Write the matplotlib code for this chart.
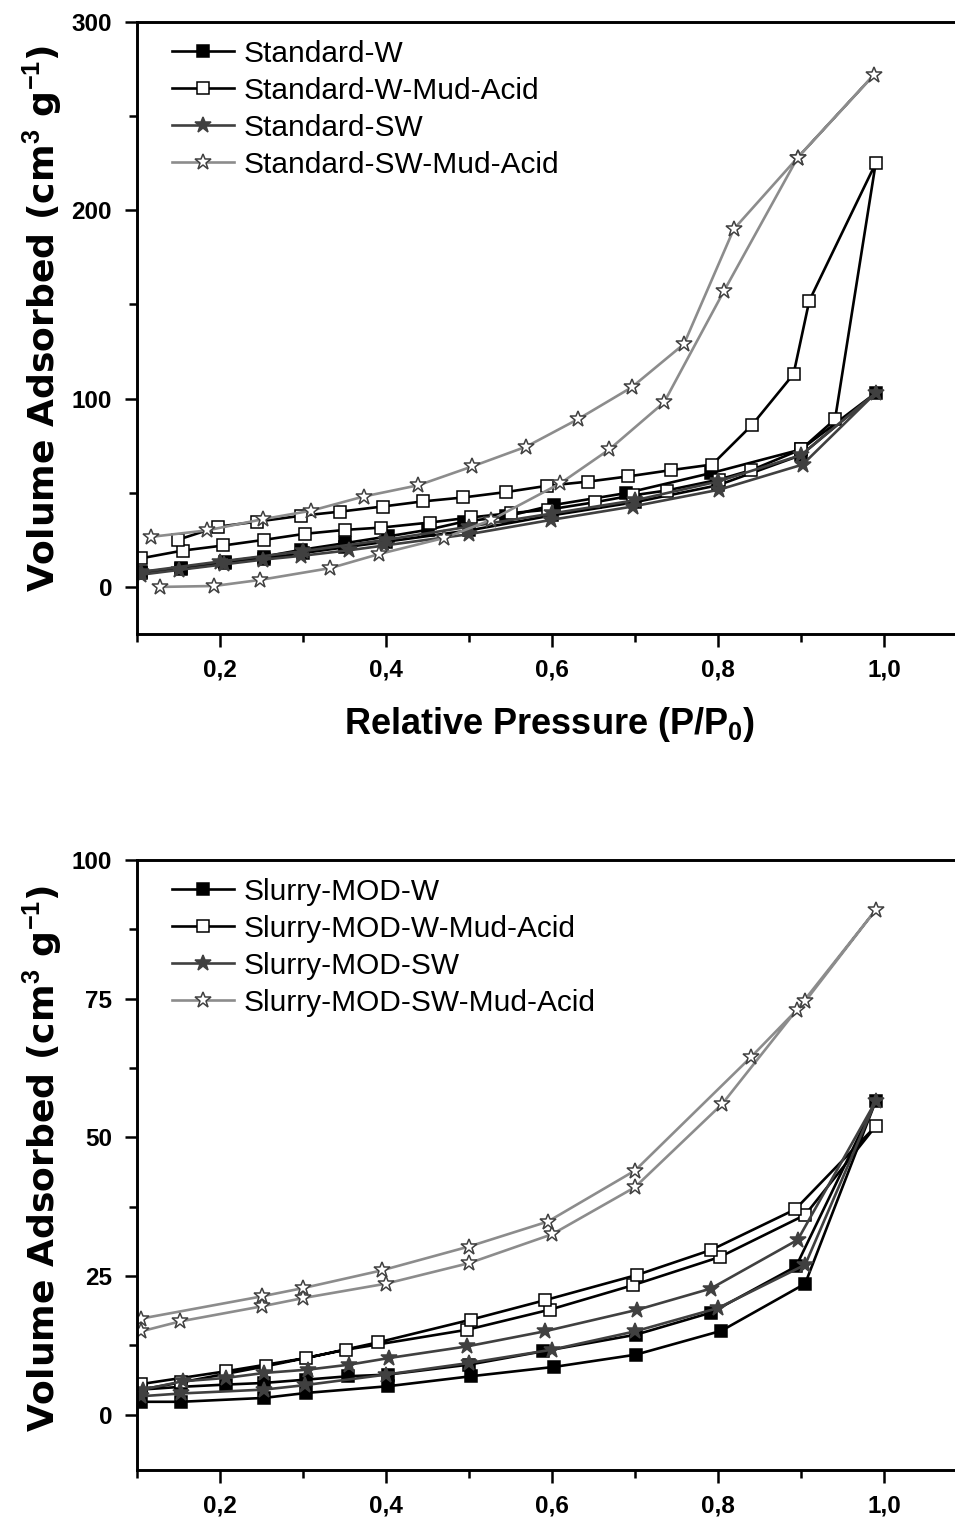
import numpy as np
import matplotlib
matplotlib.use('Agg')
import matplotlib.pyplot as plt
from matplotlib.ticker import MultipleLocator, FuncFormatter

plt.rcParams['font.family'] = ['Liberation Sans', 'DejaVu Sans']
plt.rcParams['mathtext.fontset'] = 'custom'
plt.rcParams['mathtext.rm'] = 'Liberation Sans'
plt.rcParams['mathtext.bf'] = 'Liberation Sans:bold'

# ---- top panel: Standard samples (adsorption up, desorption back down) ----
std_w_x = [0.105, 0.153, 0.206, 0.253, 0.30, 0.35, 0.40, 0.50, 0.60, 0.70, 0.80, 0.90, 0.99,
           0.90, 0.792, 0.689, 0.603, 0.545, 0.494, 0.45, 0.402, 0.35, 0.298, 0.253, 0.206, 0.153, 0.105]
std_w_y = [7.3, 9.5, 12.5, 15, 18, 21, 24, 30, 38, 45, 54, 70, 103,
           73, 60.5, 49.8, 43.6, 37.4, 34.7, 30.3, 26.8, 23.2, 19.7, 16.1, 13.5, 10, 8]

std_wma_x = [0.105, 0.155, 0.204, 0.253, 0.302, 0.351, 0.394, 0.453, 0.502, 0.551, 0.595, 0.652,
             0.697, 0.738, 0.801, 0.84, 0.90, 0.941, 0.99,
             0.91, 0.891, 0.841, 0.793, 0.743, 0.692, 0.643, 0.594, 0.545, 0.493, 0.444, 0.396,
             0.345, 0.298, 0.245, 0.198, 0.149]
std_wma_y = [15.2, 19.3, 22, 25, 28.2, 30.3, 31.5, 34.2, 36.9, 39.2, 41, 45,
             48.6, 51.2, 57, 62, 73, 89, 225,
             152, 113, 86, 65, 62, 58.7, 55.9, 53.7, 50.4, 47.5, 45.4, 42.7,
             40, 37.8, 34.7, 32, 25]

std_sw_x = [0.105, 0.15, 0.205, 0.252, 0.298, 0.356, 0.398, 0.50, 0.599, 0.697, 0.801, 0.902, 0.99,
            0.90, 0.80, 0.70, 0.60, 0.50, 0.40, 0.30, 0.20, 0.105]
std_sw_y = [6.5, 9, 12, 14.5, 16.5, 19.5, 22, 28, 35.6, 42.7, 51.6, 65, 103,
            70, 56, 46, 39, 32, 25, 19, 13.5, 8]

std_swma_x = [0.128, 0.193, 0.248, 0.333, 0.392, 0.47, 0.527, 0.61, 0.669, 0.735, 0.807, 0.896, 0.988,
              0.896, 0.819, 0.759, 0.696, 0.631, 0.569, 0.504, 0.439, 0.373, 0.31, 0.252, 0.184, 0.117]
std_swma_y = [0, 0.5, 3.7, 10, 17.5, 26, 35.6, 55, 73, 98, 157, 228, 272,
              228, 190, 129, 106, 89, 74.5, 64, 54, 48, 40.5, 36, 30, 26.6]

# ---- bottom panel: Slurry-MOD samples ----
sl_w_x = [0.105, 0.153, 0.253, 0.304, 0.402, 0.502, 0.603, 0.701, 0.804, 0.905, 0.99,
          0.894, 0.792, 0.701, 0.589, 0.50, 0.402, 0.354, 0.304, 0.253, 0.207, 0.153, 0.105]
sl_w_y = [2.3, 2.3, 3.0, 3.9, 5.1, 6.9, 8.6, 10.8, 15.1, 23.6, 56.5,
          26.7, 18.4, 14.4, 11.4, 9.0, 7.2, 6.9, 6.3, 5.7, 5.4, 5.0, 4.5]

sl_wma_x = [0.105, 0.153, 0.255, 0.352, 0.498, 0.597, 0.697, 0.802, 0.905, 0.99,
            0.893, 0.792, 0.703, 0.591, 0.502, 0.39, 0.304, 0.207, 0.105]
sl_wma_y = [4.5, 5.8, 8.7, 11.7, 15.3, 18.9, 23.3, 28.4, 36.0, 52.0,
            37, 29.7, 25.2, 20.6, 17.1, 13.0, 10.2, 7.8, 5.5]

sl_sw_x = [0.105, 0.153, 0.253, 0.302, 0.40, 0.50, 0.60, 0.70, 0.80, 0.905, 0.99,
           0.896, 0.791, 0.703, 0.591, 0.498, 0.404, 0.356, 0.306, 0.253, 0.207, 0.155, 0.107]
sl_sw_y = [3.3, 3.8, 4.5, 5.3, 7.2, 9.3, 11.7, 15.0, 19.2, 27.0, 56.5,
           31.5, 22.7, 18.9, 15.0, 12.3, 10.2, 9.0, 8.1, 7.5, 6.6, 6.0, 4.5]

sl_swma_x = [0.105, 0.152, 0.25, 0.30, 0.40, 0.50, 0.60, 0.70, 0.805, 0.895, 0.99,
             0.905, 0.84, 0.70, 0.595, 0.50, 0.395, 0.30, 0.25, 0.105]
sl_swma_y = [15, 16.8, 19.5, 21, 23.6, 27.3, 32.5, 41, 56, 73, 91,
             74.5, 64.5, 44, 34.8, 30.3, 26, 22.8, 21.3, 17.3]

top_labels = ['Standard-W', 'Standard-W-Mud-Acid', 'Standard-SW', 'Standard-SW-Mud-Acid']
bot_labels = ['Slurry-MOD-W', 'Slurry-MOD-W-Mud-Acid', 'Slurry-MOD-SW', 'Slurry-MOD-SW-Mud-Acid']

# style per series position: line colour, marker, face colour, edge colour, marker size
styles = [
    dict(color='black', marker='s', mfc='black', mec='black', ms=8),
    dict(color='black', marker='s', mfc='white', mec='black', ms=8),
    dict(color='#404040', marker='*', mfc='#404040', mec='#404040', ms=12),
    dict(color='#8c8c8c', marker='*', mfc='white', mec='#404040', ms=12),
]

W, H = 955, 1517
fig = plt.figure(figsize=(W / 100, H / 100), dpi=100)


def comma(v, pos):
    return ('%.1f' % v).replace('.', ',')


def setup(ax, ymin, ymax, ymajor):
    ax.set_xlim(0.1, 1.1)
    ax.set_ylim(ymin, ymax)
    ax.xaxis.set_major_locator(MultipleLocator(0.2))
    ax.xaxis.set_minor_locator(MultipleLocator(0.1))
    ax.yaxis.set_major_locator(MultipleLocator(ymajor))
    ax.yaxis.set_minor_locator(MultipleLocator(ymajor / 2))
    ax.xaxis.set_major_formatter(FuncFormatter(comma))
    ax.tick_params(which='both', direction='out', width=1.8, top=False, right=False,
                   labelsize=17.5)
    ax.tick_params(which='major', length=9, pad=9)
    ax.tick_params(which='minor', length=6)
    for lab in ax.get_xticklabels() + ax.get_yticklabels():
        lab.set_fontweight('bold')
    for sp in ax.spines.values():
        sp.set_linewidth(2.1)


def draw(ax, series, labels):
    handles = []
    for (x, y), lab, st in zip(series, labels, styles):
        h, = ax.plot(x, y, color=st['color'], lw=1.9, marker=st['marker'],
                     markerfacecolor=st['mfc'], markeredgecolor=st['mec'],
                     markersize=st['ms'], markeredgewidth=1.1, label=lab)
        handles.append(h)
    ax.legend(handles=handles, loc='upper left', bbox_to_anchor=(0.02, 1.0),
              frameon=False, fontsize=21.5, handlelength=2.1, handletextpad=0.3,
              labelspacing=0.3, borderaxespad=0.2)


ax1 = fig.add_axes([137 / W, 1 - 634 / H, 830 / W, 612 / H])
setup(ax1, -25, 300, 100)
draw(ax1, [(std_w_x, std_w_y), (std_wma_x, std_wma_y), (std_sw_x, std_sw_y),
           (std_swma_x, std_swma_y)], top_labels)

ax2 = fig.add_axes([137 / W, 1 - 1470 / H, 830 / W, 610 / H])
setup(ax2, -10, 100, 25)
draw(ax2, [(sl_w_x, sl_w_y), (sl_wma_x, sl_wma_y), (sl_sw_x, sl_sw_y),
           (sl_swma_x, sl_swma_y)], bot_labels)

ylab = r'Volume Adsorbed (cm$^{\mathbf{3}}$ g$^{\mathbf{-1}}$)'
for yc in (318, 1158):
    fig.text(42 / W, 1 - yc / H, ylab, rotation=90, ha='center', va='center',
             fontsize=26, fontweight='bold', family=['DejaVu Sans'])
fig.text(550 / W, 1 - 724 / H, r'Relative Pressure (P/P$_{\mathbf{0}}$)',
         ha='center', va='center', fontsize=26, fontweight='bold')

fig.savefig('out.png', dpi=100)
